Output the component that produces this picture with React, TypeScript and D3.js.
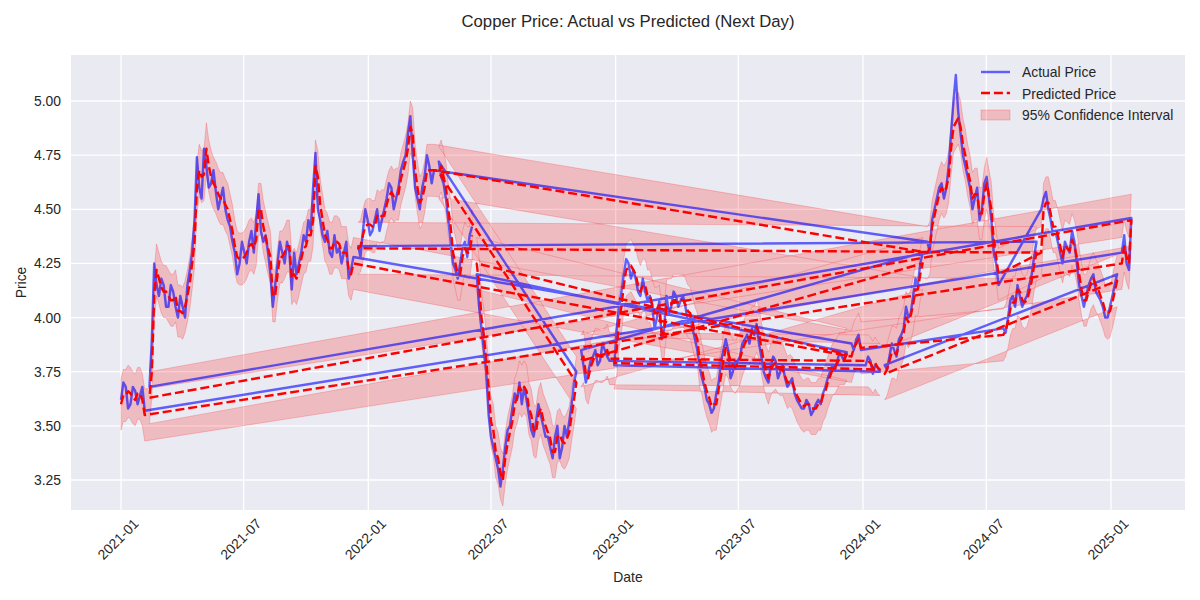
import React from "react";
import * as d3 from "d3";

// ---------------- DATA ----------------
// Weekly observations starting 2021-01-01 (index i => start + 7*i days),
// plus a mid-week observation between week i and week i+1.
const startDate = "2021-01-01";
const stepDays = 7;

const actualPrice: number[] = [
  3.62, 3.68, 3.6, 3.66, 3.64, 3.57,
  3.68, 4.25, 4.1, 4.15, 4.05, 4.12, 4.0, 4.05, 4.15, 4.3, 4.74, 4.55, 4.7, 4.62,
  4.58, 4.55, 4.5, 4.42, 4.3, 4.25, 4.3, 4.35, 4.3, 4.57, 4.35, 4.3, 4.05, 4.25,
  4.3, 4.35, 4.13, 4.2, 4.3, 4.35, 4.4, 4.76, 4.45, 4.35, 4.3, 4.38, 4.32, 4.3,
  4.18, 4.28,
  4.33, 4.4, 4.45, 4.4, 4.5, 4.45, 4.55, 4.6, 4.55, 4.68, 4.75, 4.93, 4.6, 4.5,
  4.65, 4.7, 4.68,
  4.72, 4.62, 4.45, 4.25, 4.18, 4.32, 4.28, 4.42,
  4.2, 3.95, 3.75, 3.45, 3.35, 3.22, 3.4, 3.5, 3.65, 3.7, 3.68, 3.55, 3.45, 3.6,
  3.5, 3.45, 3.35, 3.5, 3.4, 3.45, 3.6, 3.75,
  3.85, 3.7, 3.8, 3.85, 3.8, 3.85, 3.8,
  3.78, 4.05, 4.2, 4.25, 4.22, 4.12, 4.18, 4.08, 4.05, 4.0, 3.9, 4.1, 4.05, 4.1,
  4.08, 4.05, 4.0, 3.9, 3.77, 3.68, 3.6, 3.58, 3.7, 3.85, 3.85, 3.75, 3.8, 3.88,
  3.92, 3.95, 3.97, 3.82, 3.72, 3.78, 3.8, 3.75, 3.72, 3.7, 3.65, 3.6, 3.58, 3.6,
  3.57, 3.62, 3.65, 3.72, 3.78, 3.8, 3.82, 3.84,
  3.88, 3.9, 3.85,
  3.78, 3.8, 3.78, 3.75,
  3.78, 3.82, 3.85, 3.9, 3.95, 4.0, 4.1, 4.15, 4.3,
  4.35, 4.45, 4.55, 4.62, 4.6, 4.85, 5.12, 4.85, 4.7, 4.6, 4.55, 4.45, 4.62, 4.55,
  4.3, 4.15,
  3.95, 4.0, 4.1, 4.15, 4.05, 4.1, 4.2, 4.35,
  4.5, 4.58, 4.45, 4.4, 4.3, 4.35, 4.3, 4.35, 4.15, 4.05, 4.15, 4.2, 4.1, 4.05,
  4.0, 4.1, 4.2,
  4.3, 4.25, 4.46,
];

const actualMidweek: number[] = [
  3.7, 3.58, 3.68, 3.6, 3.68, 3.6,
  3.9, 4.15, 4.18, 4.05, 4.15, 4.05, 4.1, 4.0, 4.22, 4.45, 4.6, 4.78, 4.6, 4.68,
  4.5, 4.6, 4.45, 4.35, 4.2, 4.35, 4.25, 4.4, 4.45, 4.4, 4.38, 4.2, 4.15, 4.35,
  4.25, 4.3, 4.3, 4.25, 4.38, 4.45, 4.6, 4.5, 4.38, 4.4, 4.28, 4.3, 4.25, 4.35,
  4.22, 4.38,
  4.28, 4.5, 4.38, 4.45, 4.4, 4.5, 4.62, 4.5, 4.6, 4.72, 4.85, 4.75, 4.55, 4.6,
  4.75, 4.62, 4.75,
  4.65, 4.55, 4.35, 4.22, 4.25, 4.35, 4.38, 4.3,
  4.05, 3.85, 3.55, 3.4, 3.3, 3.3, 3.48, 3.58, 3.62, 3.6, 3.62, 3.48, 3.52, 3.55,
  3.45, 3.4, 3.45, 3.35, 3.5, 3.52, 3.7, 3.8,
  3.78, 3.75, 3.82, 3.78, 3.88, 3.82, 3.9,
  3.95, 4.12, 4.27, 4.18, 4.18, 4.1, 4.12, 4.1, 3.95, 4.08, 3.95, 4.02, 4.12, 4.05,
  4.1, 3.98, 3.95, 3.85, 3.72, 3.62, 3.56, 3.65, 3.8, 3.9, 3.72, 3.8, 3.82, 3.9,
  3.88, 3.92, 3.88, 3.75, 3.7, 3.82, 3.72, 3.78, 3.68, 3.72, 3.62, 3.58, 3.62, 3.55,
  3.6, 3.6, 3.68, 3.75, 3.76, 3.84, 3.8, 3.88,
  3.85, 3.92, 3.8,
  3.82, 3.74, 3.77, 3.8,
  3.76, 3.88, 3.82, 3.92, 4.05, 4.02, 4.18, 4.25, 4.4,
  4.3, 4.5, 4.6, 4.55, 4.7, 5.0, 4.95, 4.75, 4.65, 4.5, 4.6, 4.5, 4.65, 4.45,
  4.25, 4.05,
  3.93, 4.08, 4.05, 4.1, 4.08, 4.15, 4.28, 4.42,
  4.55, 4.5, 4.38, 4.35, 4.25, 4.32, 4.4, 4.25, 4.1, 4.1, 4.18, 4.12, 4.08, 4.0,
  4.05, 4.15, 4.25,
  4.38, 4.22,
];

const predictedPrice: number[] = [
  3.6, 3.64, 3.65, 3.62, 3.65, 3.55,
  3.63, 4.1, 4.18, 4.12, 4.1, 4.08, 4.03, 4.02, 4.1, 4.25, 4.6, 4.65, 4.78, 4.65,
  4.6, 4.55, 4.52, 4.45, 4.33, 4.27, 4.28, 4.33, 4.32, 4.5, 4.42, 4.32, 4.1, 4.2,
  4.28, 4.33, 4.18, 4.18, 4.27, 4.33, 4.38, 4.7, 4.52, 4.38, 4.32, 4.35, 4.34, 4.3,
  4.22, 4.25,
  4.32, 4.38, 4.43, 4.42, 4.47, 4.47, 4.52, 4.58, 4.57, 4.64, 4.72, 4.88, 4.68, 4.53,
  4.6, 4.68, 4.68,
  4.67, 4.65, 4.5, 4.3, 4.2, 4.28, 4.3, 4.38,
  4.25, 4.0, 3.8, 3.52, 3.38, 3.28, 3.35, 3.47, 3.6, 3.68, 3.68, 3.58, 3.48, 3.55,
  3.53, 3.47, 3.38, 3.45, 3.43, 3.44, 3.55, 3.7,
  3.8, 3.74, 3.77, 3.83, 3.82, 3.83, 3.81,
  3.79, 3.98, 4.15, 4.23, 4.22, 4.15, 4.15, 4.1, 4.06, 4.02, 3.93, 4.05, 4.06, 4.08,
  4.08, 4.06, 4.02, 3.93, 3.8, 3.7, 3.63, 3.6, 3.67, 3.8, 3.84, 3.78, 3.79, 3.85,
  3.9, 3.93, 3.96, 3.86, 3.75, 3.76, 3.79, 3.76, 3.73, 3.71, 3.67, 3.62, 3.59, 3.6,
  3.58, 3.6, 3.64, 3.7, 3.76, 3.79, 3.81, 3.83,
  3.82, 3.88, 3.86,
  3.8, 3.79, 3.79, 3.76,
  3.74, 3.8, 3.84, 3.88, 3.93, 3.98, 4.06, 4.13, 4.25,
  4.3, 4.42, 4.52, 4.6, 4.6, 4.78, 4.9, 4.88, 4.75, 4.63, 4.57, 4.48, 4.57, 4.56,
  4.35, 4.2,
  3.92, 3.98, 4.07, 4.13, 4.08, 4.08, 4.17, 4.3,
  4.3, 4.53, 4.48, 4.42, 4.33, 4.33, 4.31, 4.33, 4.2, 4.08, 4.12, 4.18, 4.13, 4.07,
  4.02, 4.07, 4.17,
  4.25, 4.28, 4.45,
];

const predictedMidweek: number[] = [
  3.64, 3.66, 3.63, 3.65, 3.62, 3.58,
  3.75, 4.22, 4.14, 4.12, 4.08, 4.1, 4.03, 4.05, 4.16, 4.35, 4.68, 4.66, 4.7, 4.62,
  4.57, 4.55, 4.5, 4.4, 4.28, 4.27, 4.3, 4.34, 4.36, 4.5, 4.37, 4.28, 4.1, 4.28,
  4.3, 4.33, 4.2, 4.22, 4.32, 4.38, 4.45, 4.65, 4.45, 4.36, 4.32, 4.35, 4.3, 4.3,
  4.2, 4.3,
  4.33, 4.42, 4.43, 4.42, 4.46, 4.47, 4.56, 4.56, 4.57, 4.68, 4.78, 4.85, 4.6, 4.55,
  4.68, 4.68, 4.7,
  4.7, 4.6, 4.42, 4.25, 4.2, 4.32, 4.3, 4.36,
  4.15, 3.92, 3.68, 3.48, 3.35, 3.25, 3.42, 3.52, 3.63, 3.66, 3.66, 3.55, 3.47, 3.58,
  3.5, 3.44, 3.38, 3.46, 3.42, 3.47, 3.62, 3.75,
  3.82, 3.72, 3.8, 3.83, 3.82, 3.85, 3.83,
  3.85, 4.05, 4.22, 4.24, 4.2, 4.12, 4.15, 4.1, 4.02, 4.03, 3.93, 4.06, 4.08, 4.08,
  4.08, 4.03, 3.98, 3.9, 3.76, 3.66, 3.59, 3.6, 3.73, 3.86, 3.8, 3.77, 3.81, 3.88,
  3.9, 3.93, 3.93, 3.8, 3.72, 3.78, 3.77, 3.76, 3.7, 3.7, 3.64, 3.6, 3.6, 3.58,
  3.58, 3.6, 3.66, 3.73, 3.77, 3.81, 3.81, 3.85,
  3.86, 3.9, 3.83,
  3.8, 3.77, 3.77, 3.77,
  3.76, 3.84, 3.83, 3.9, 4.0, 4.01, 4.13, 4.2, 4.35,
  4.32, 4.47, 4.57, 4.58, 4.65, 4.88, 4.92, 4.8, 4.68, 4.55, 4.57, 4.48, 4.62, 4.5,
  4.28, 4.1,
  3.94, 4.04, 4.07, 4.12, 4.07, 4.12, 4.24, 4.38,
  4.5, 4.53, 4.42, 4.38, 4.28, 4.32, 4.36, 4.28, 4.13, 4.08, 4.16, 4.15, 4.1, 4.03,
  4.03, 4.12, 4.22,
  4.33, 4.25,
];

// Half-width of the 95% confidence interval around the prediction
const ciHalfWidth = 0.12;

// Order in which the weekly blocks appear in the source table (index ranges, inclusive)
const rowOrder: [number, number][] = [
  [0, 5], [211, 213], [6, 49], [154, 156], [186, 193], [50, 66], [170, 185],
  [194, 210], [161, 169], [97, 103], [157, 160], [104, 153], [75, 96], [67, 74],
];

const xTickLabels = [
  "2021-01", "2021-07", "2022-01", "2022-07", "2023-01",
  "2023-07", "2024-01", "2024-07", "2025-01",
];
const yTicks = [3.25, 3.5, 3.75, 4.0, 4.25, 4.5, 4.75, 5.0];

const titleText = "Copper Price: Actual vs Predicted (Next Day)";
const legendLabels = ["Actual Price", "Predicted Price", "95% Confidence Interval"];

// ---------------- CHART ----------------
type Row = { date: Date; a: number; p: number };

const W = 1200;
const H = 600;
const plot = { left: 71, right: 1185, top: 55, bottom: 510 };
const FONT = "'Liberation Sans', Arial, 'DejaVu Sans', sans-serif";
const TEXT = "#262626";

export default function App() {
  const start = new Date(startDate + "T00:00:00Z");
  const dateAt = (t: number) => new Date(start.getTime() + t * stepDays * 86400000);

  const rows: Row[] = [];
  rowOrder.forEach(([s, e]) => {
    for (let i = s; i <= e; i++) {
      rows.push({ date: dateAt(i), a: actualPrice[i], p: predictedPrice[i] });
      if (i < e) {
        rows.push({ date: dateAt(i + 0.5), a: actualMidweek[i], p: predictedMidweek[i] });
      }
    }
  });

  const parseTick = d3.utcParse("%Y-%m");
  const x = d3
    .scaleUtc()
    .domain([parseTick("2021-01") as Date, parseTick("2025-01") as Date])
    .range([121, 1111]);
  const y = d3.scaleLinear().domain([3.25, 5.0]).range([480, 101]);

  const band = d3
    .area<Row>()
    .x((d) => x(d.date))
    .y0((d) => y(d.p - ciHalfWidth))
    .y1((d) => y(d.p + ciHalfWidth));
  const actualLine = d3
    .line<Row>()
    .x((d) => x(d.date))
    .y((d) => y(d.a));
  const predLine = d3
    .line<Row>()
    .x((d) => x(d.date))
    .y((d) => y(d.p));

  const lw = 2.43;
  const dash = "9,3.9";

  return (
    <svg
      width={W}
      height={H}
      style={{ position: "absolute", left: 0, top: 0, background: "#fff" }}
      fontFamily={FONT}
    >
      <defs>
        <clipPath id="plotclip">
          <rect
            x={plot.left}
            y={plot.top}
            width={plot.right - plot.left}
            height={plot.bottom - plot.top}
          />
        </clipPath>
      </defs>
      <rect
        x={plot.left}
        y={plot.top}
        width={plot.right - plot.left}
        height={plot.bottom - plot.top}
        fill="#EAEAF2"
      />
      {/* grid */}
      {xTickLabels.map((t) => {
        const xx = x(parseTick(t) as Date);
        return (
          <line
            key={"gx" + t}
            x1={xx}
            x2={xx}
            y1={plot.top}
            y2={plot.bottom}
            stroke="#fff"
            strokeWidth={1.3}
          />
        );
      })}
      {yTicks.map((t) => (
        <line
          key={"gy" + t}
          x1={plot.left}
          x2={plot.right}
          y1={y(t)}
          y2={y(t)}
          stroke="#fff"
          strokeWidth={1.3}
        />
      ))}

      <g clipPath="url(#plotclip)">
        <path
          d={band(rows) || ""}
          fill="rgba(255,0,0,0.2)"
          stroke="rgba(255,0,0,0.2)"
          strokeWidth={1}
          strokeLinejoin="round"
        />
        <path
          d={actualLine(rows) || ""}
          fill="none"
          stroke="rgba(0,0,255,0.6)"
          strokeWidth={lw}
          strokeLinejoin="round"
        />
        <path
          d={predLine(rows) || ""}
          fill="none"
          stroke="#ff0000"
          strokeWidth={lw}
          strokeDasharray={dash}
          strokeLinejoin="round"
        />
      </g>

      {/* y tick labels */}
      {yTicks.map((t) => (
        <text
          key={"yl" + t}
          x={61}
          y={y(t)}
          textAnchor="end"
          dominantBaseline="central"
          fontSize={13.9}
          fill={TEXT}
        >
          {t.toFixed(2)}
        </text>
      ))}
      {/* x tick labels */}
      {xTickLabels.map((t) => {
        const xx = x(parseTick(t) as Date) - 3;
        const yy = 539;
        return (
          <text
            key={"xl" + t}
            x={xx}
            y={yy}
            textAnchor="middle"
            dominantBaseline="central"
            fontSize={13.9}
            fill={TEXT}
            transform={`rotate(-45 ${xx} ${yy})`}
          >
            {t}
          </text>
        );
      })}

      {/* axis labels */}
      <text
        x={(plot.left + plot.right) / 2}
        y={577}
        textAnchor="middle"
        dominantBaseline="central"
        fontSize={13.9}
        fill={TEXT}
      >
        Date
      </text>
      <text
        x={21}
        y={(plot.top + plot.bottom) / 2}
        textAnchor="middle"
        dominantBaseline="central"
        fontSize={13.9}
        fill={TEXT}
        transform={`rotate(-90 21 ${(plot.top + plot.bottom) / 2})`}
      >
        Price
      </text>
      <text
        x={(plot.left + plot.right) / 2}
        y={21}
        textAnchor="middle"
        dominantBaseline="central"
        fontSize={16.7}
        fill={TEXT}
      >
        {titleText}
      </text>

      {/* legend */}
      <g>
        <line x1={981} x2={1010} y1={72} y2={72} stroke="rgba(0,0,255,0.6)" strokeWidth={lw} />
        <line
          x1={981}
          x2={1010}
          y1={93}
          y2={93}
          stroke="#ff0000"
          strokeWidth={lw}
          strokeDasharray={dash}
        />
        <rect
          x={981}
          y={110}
          width={29}
          height={10}
          fill="rgba(255,0,0,0.2)"
          stroke="rgba(255,0,0,0.2)"
          strokeWidth={1}
        />
        {legendLabels.map((l, i) => (
          <text
            key={l}
            x={1022}
            y={72 + i * 21.5}
            dominantBaseline="central"
            fontSize={13.9}
            fill={TEXT}
          >
            {l}
          </text>
        ))}
      </g>
    </svg>
  );
}
